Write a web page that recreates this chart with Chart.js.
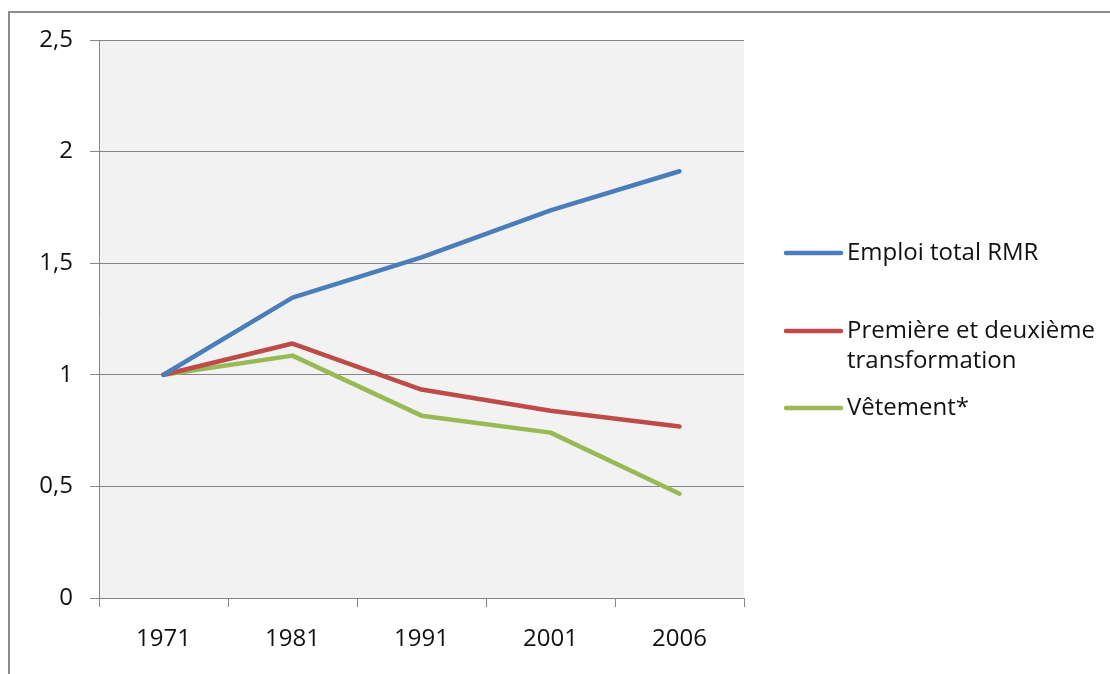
<!DOCTYPE html>
<html>
<head>
<meta charset="utf-8">
<script src="https://cdn.jsdelivr.net/npm/chart.js@4/dist/chart.umd.min.js"></script>
<style>
html,body{margin:0;padding:0;background:#fff;}
#wrap{width:1110px;height:674px;position:relative;}
</style>
</head>
<body>
<div id="wrap"><canvas id="c" width="1110" height="674"></canvas></div>
<script>
const categories = ['1971', '1981', '1991', '2001', '2006'];
const seriesNames = [['Emploi total RMR'], ['Première et deuxième', 'transformation'], ['Vêtement*']];
const emploiTotal = [1.0, 1.346, 1.526, 1.737, 1.912];
const transformation = [1.0, 1.14, 0.934, 0.839, 0.768];
const vetement = [1.0, 1.086, 0.817, 0.741, 0.467];
const yTickLabels = ['0', '0,5', '1', '1,5', '2', '2,5'];

const colors = ['#4A7EBB', '#BE4B48', '#98B954'];
const FONT = '"Open Sans", "Liberation Sans", sans-serif';
const GRID = '#868686';

const framePlugin = {
  id: 'frame',
  beforeDraw(chart) {
    const {ctx, chartArea: a} = chart;
    ctx.save();
    ctx.fillStyle = '#fff';
    ctx.fillRect(0, 0, chart.width, chart.height);
    ctx.strokeStyle = '#8c8c8c';
    ctx.lineWidth = 2;
    ctx.beginPath();
    ctx.moveTo(9, chart.height + 5);
    ctx.lineTo(9, 12);
    ctx.lineTo(chart.width + 5, 12);
    ctx.stroke();
    ctx.fillStyle = '#f2f2f2';
    ctx.fillRect(a.left, a.top, a.right - a.left, a.bottom - a.top);
    ctx.restore();
  }
};

const legendPlugin = {
  id: 'customLegend',
  afterDraw(chart) {
    const {ctx} = chart;
    const rows = [[253], [331, 361], [408]];
    ctx.save();
    ctx.font = '24px ' + FONT;
    ctx.textBaseline = 'middle';
    ctx.textAlign = 'left';
    chart.data.datasets.forEach((ds, i) => {
      const ys = rows[i];
      ctx.strokeStyle = ds.borderColor;
      ctx.lineWidth = 4.5;
      ctx.lineCap = 'round';
      ctx.beginPath();
      ctx.moveTo(786, ys[0]);
      ctx.lineTo(841, ys[0]);
      ctx.stroke();
      ctx.fillStyle = '#111';
      seriesNames[i].forEach((t, j) => ctx.fillText(t, 847, ys[j] ?? ys[0] + 30 * j));
    });
    ctx.restore();
  }
};

const mk = (label, data, color) => ({
  label, data, borderColor: color, backgroundColor: color,
  borderWidth: 4.5, pointRadius: 0, tension: 0, borderJoinStyle: 'round', borderCapStyle: 'round'
});

new Chart(document.getElementById('c'), {
  type: 'line',
  data: {
    labels: categories,
    datasets: [
      mk(seriesNames[0].join(' '), emploiTotal, colors[0]),
      mk(seriesNames[1].join(' '), transformation, colors[1]),
      mk(seriesNames[2].join(' '), vetement, colors[2])
    ]
  },
  options: {
    responsive: false,
    animation: false,
    devicePixelRatio: 1,
    layout: {padding: {top: 40, right: 366, left: 0, bottom: 0}},
    plugins: {legend: {display: false}, tooltip: {enabled: false}},
    scales: {
      x: {
        offset: true,
        grid: {offset: true, drawOnChartArea: false, drawTicks: true, tickLength: 9, color: GRID, lineWidth: 1},
        border: {color: GRID, width: 1},
        ticks: {font: {family: FONT, size: 24}, color: '#111', padding: 18, maxRotation: 0},
        afterFit(s) { s.height = 76; }
      },
      y: {
        min: 0, max: 2.5,
        grid: {color: GRID, lineWidth: 1, tickLength: 9, drawTicks: true},
        border: {color: GRID, width: 1},
        ticks: {stepSize: 0.5, font: {family: FONT, size: 24}, color: '#111', padding: 17,
          callback: (v, i) => yTickLabels[i]},
        afterFit(s) { s.width = 99; }
      }
    }
  },
  plugins: [framePlugin, legendPlugin]
});
</script>
</body>
</html>
